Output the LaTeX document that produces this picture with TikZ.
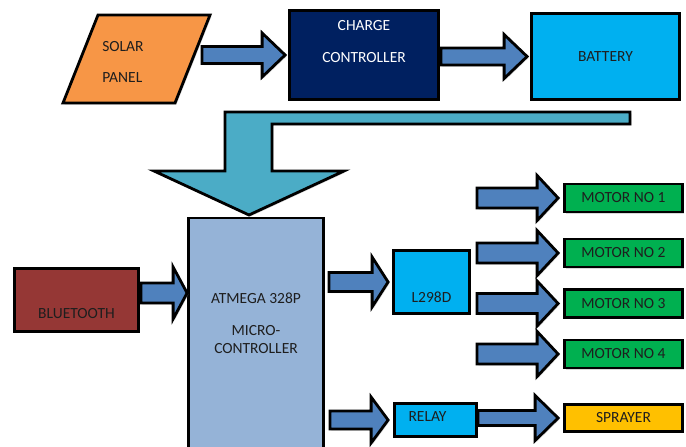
\documentclass[tikz,border=0pt]{standalone}
\usepackage{fontspec}
\setmainfont{Carlito}
\usetikzlibrary{calc,shadows}

\definecolor{solarorange}{HTML}{F79646}
\definecolor{chargenavy}{HTML}{002060}
\definecolor{cyanblue}{HTML}{00B0F0}
\definecolor{arrowblue}{HTML}{4F81BD}
\definecolor{bentteal}{HTML}{4BACC6}
\definecolor{microblue}{HTML}{95B3D7}
\definecolor{btred}{HTML}{953735}
\definecolor{motorgreen}{HTML}{00B050}
\definecolor{sprayyellow}{HTML}{FFC000}
\definecolor{textgrey}{HTML}{1E1E1E}

\tikzset{
  softshadow/.style = {drop shadow = {shadow xshift = 1.5pt, shadow yshift = -1.5pt,
                                      opacity = .3}},
  box/.style = {draw, rectangle, line width = 2.8pt, inner sep = 0pt, softshadow,
                font = \fontsize{15.5}{18}\selectfont, text = textgrey},
  txt/.style = {font = \fontsize{15.5}{18}\selectfont, text = textgrey,
                align = center, inner sep = 0pt},
  panel/.style = {draw, line width = 2.8pt, fill = solarorange, softshadow},
  blockarrow/.style = {draw, line width = 2.8pt, fill = arrowblue, softshadow},
  bentarrow/.style = {draw, line width = 2.8pt, fill = bentteal, softshadow}
}

% fat arrow: from x of #1 to tip #2, shaft half width #3, head half width #4, head length #5
\newcommand\blockarrow[5]{%
  \draw [blockarrow] let \p1 = (#1), \p2 = (#2) in
    (\x1,{\y2+#3pt}) -- ({\x2-#5pt},{\y2+#3pt}) -- ({\x2-#5pt},{\y2+#4pt})
    -- (\x2,\y2) -- ({\x2-#5pt},{\y2-#4pt}) -- ({\x2-#5pt},{\y2-#3pt})
    -- (\x1,{\y2-#3pt}) -- cycle;}

\begin{document}
\begin{tikzpicture}[x = 1pt, y = -1pt]
  \useasboundingbox (0,0) rectangle (686,447);
  \clip (0,0) rectangle (686,447);

  % top row
  \draw [panel] (63,103) -- (98,15) -- (210,15) -- (175,103) -- cycle;
  \coordinate (solarout) at (202,56);
  \node [txt, align = left] (solar) at (123,61.5) {SOLAR\\[13pt]PANEL};
  \node [box, fill = chargenavy, minimum width = 149pt, minimum height = 89pt]
    (charge) at (364,55) {};
  \node [txt, text = white] (chargetxt) at ([yshift = 13pt]charge.center)
    {CHARGE\\[14pt]CONTROLLER};
  \node [box, fill = cyanblue, minimum width = 148pt, minimum height = 86pt]
    (battery) at (605.5,56.5) {BATTERY};

  \blockarrow{solarout}{[xshift = -3pt]charge.west}{8.5}{22}{23}
  \blockarrow{[xshift = 1pt]charge.east}{[xshift = -3pt]battery.west}{8.5}{22}{23}

  % supply down to the controller
  \draw [bentarrow] (225,112) -- (630,112) -- (630,124) -- (272,124) -- (272,171)
    -- (344,171) -- (249,215) -- (154,171) -- (225,171) -- cycle;

  % controller and its neighbours
  \node [box, fill = microblue, minimum width = 135pt, minimum height = 252pt]
    (micro) at (256,344) {};
  \node [txt] (microtxt) at (256,323) {ATMEGA 328P\\[14pt]MICRO-\\CONTROLLER};
  \node [box, fill = btred, minimum width = 124pt, minimum height = 63pt]
    (bt) at (76.5,300) {};
  \node [txt] (bttxt) at ([yshift = -14pt]bt.center) {BLUETOOTH};
  \node [box, fill = cyanblue, minimum width = 76pt, minimum height = 63pt]
    (l298) at (431.5,282) {};
  \node [txt] (l298txt) at ([yshift = -15pt]l298.center) {L298D};
  \node [box, fill = cyanblue, minimum width = 82pt, minimum height = 33pt]
    (relay) at (435.5,420) {};
  \node [txt] (relaytxt) at ([xshift = -8pt, yshift = 3pt]relay.center) {RELAY};
  \node [box, fill = sprayyellow, minimum width = 118pt, minimum height = 27pt]
    (sprayer) at (623.5,418) {SPRAYER};

  \blockarrow{[xshift = 1pt]bt.east}{micro.west |- 0,293}{10}{26}{14}
  \blockarrow{[xshift = 4pt]micro.east}{[xshift = -4pt]l298.west}{9.5}{25}{16}
  \blockarrow{[xshift = 5pt]micro.east}{[xshift = -5pt]relay.west}{9}{23}{17}
  \blockarrow{relay.east}{[xshift = -5pt]sprayer.west}{7.5}{22.5}{23}

  % motors
  \foreach \k/\y in {1/198, 2/253, 3/303.5, 4/354} {
    \node [box, fill = motorgreen, minimum width = 118pt, minimum height = 28pt]
      (motor\k) at (623.5,\y) {MOTOR NO \k};
    \coordinate (motorin\k) at (477,\y);
    \blockarrow{motorin\k}{[xshift = -5pt]motor\k.west}{10}{22.5}{21}
  }
\end{tikzpicture}
\end{document}
